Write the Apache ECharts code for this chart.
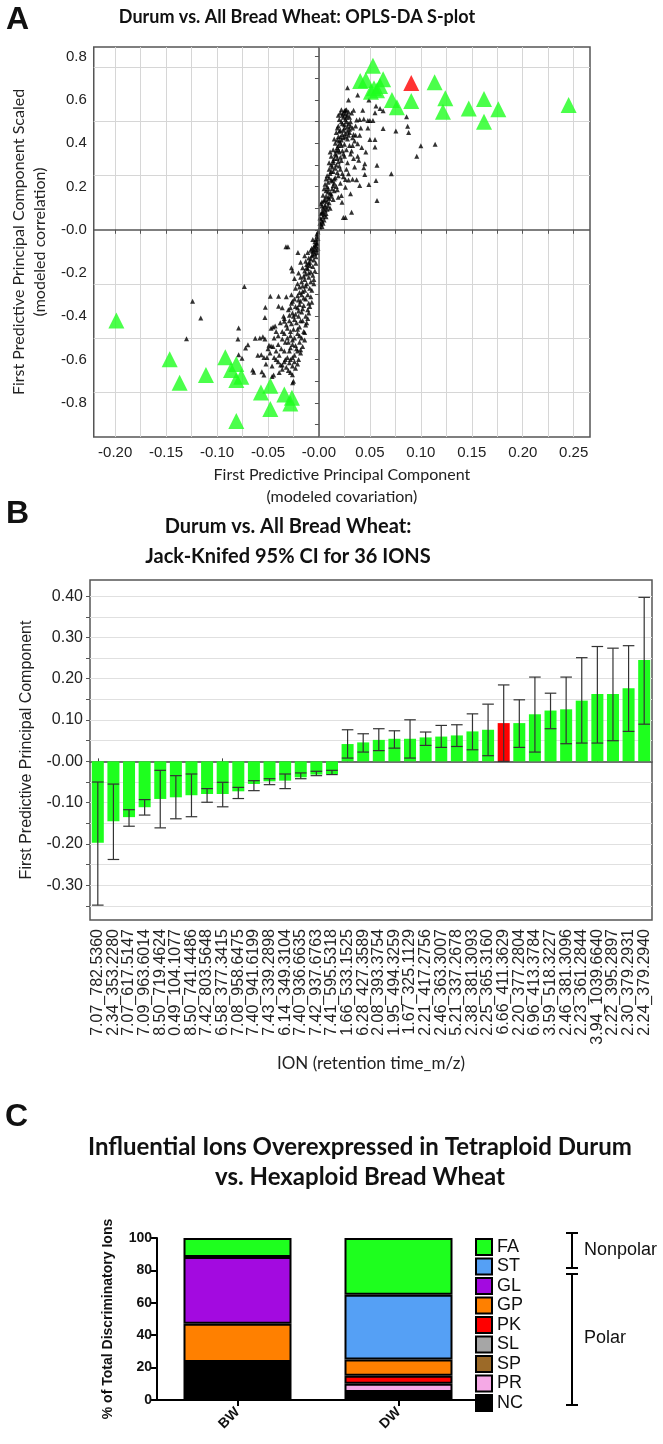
<!DOCTYPE html>
<html><head><meta charset="utf-8">
<script src="https://cdn.jsdelivr.net/npm/echarts@6/dist/echarts.min.js"></script>
<style>html,body{margin:0;padding:0;background:#fff}#c{width:663px;height:1444px}</style>
</head><body><div id="c"></div><script>
// ---------- Panel A: S-plot data ----------
const blackPoints = [
[0.028,0.657],[0.029,0.600],[0.038,0.623],[0.049,0.600],[0.026,0.553],[0.034,0.553],[0.043,0.553],[0.056,0.572],[0.060,0.561],[0.063,0.550],[0.055,0.541],[0.037,0.507],[0.040,0.510],[0.044,0.512],[0.048,0.505],[0.050,0.505],[0.053,0.505],[0.063,0.468],[0.0755,0.457],[0.086,0.522],[0.087,0.479],[0.088,0.450],[0.100,0.388],[0.114,0.395],[0.096,0.340],[0.071,0.259],[0.057,0.298],[0.056,0.228],[0.057,0.135],[0.045,0.305],[0.044,0.287],[0.045,0.256],[0.050,0.417],[0.055,0.417],[0.055,0.383],[0.040,0.437],[0.036,0.437],[0.040,0.205],[0.049,0.209],[0.037,0.231],[0.033,0.234],[0.026,0.232],[0.029,0.230],[0.022,0.158],[0.0226,0.127],[0.026,0.057],[0.032,0.081],[0.024,0.057],
[0.029,0.437],[0.033,0.426],[0.038,0.398],[0.032,0.364],[0.034,0.329],[0.039,0.321],[0.035,0.290],[0.029,0.259],[0.026,0.197],[0.031,0.166],[0.019,0.150],
[0.001,0.010],[0.002,0.025],[0.003,0.040],[0.002,0.050],[0.004,0.060],[0.005,0.070],[0.003,0.080],[0.006,0.090],[0.004,0.100],[0.007,0.075],[0.008,0.095],[0.001,0.030],[0.005,0.045],[0.009,0.110],[0.002,0.120],
[0.003,0.130],[0.006,0.140],[0.009,0.150],[0.004,0.160],[0.011,0.170],[0.007,0.180],[0.005,0.190],[0.013,0.190],[0.008,0.200],[0.010,0.125],[0.012,0.155],[0.015,0.180],[0.006,0.115],[0.014,0.205],[0.017,0.200],
[0.006,0.210],[0.009,0.220],[0.012,0.230],[0.016,0.240],[0.008,0.250],[0.011,0.260],[0.014,0.270],[0.019,0.250],[0.010,0.280],[0.013,0.290],[0.017,0.300],[0.021,0.280],[0.007,0.235],[0.015,0.215],[0.023,0.260],[0.012,0.300],
[0.010,0.310],[0.014,0.320],[0.018,0.330],[0.022,0.320],[0.012,0.340],[0.016,0.350],[0.020,0.360],[0.025,0.340],[0.014,0.370],[0.018,0.380],[0.022,0.390],[0.027,0.370],[0.016,0.400],[0.020,0.410],[0.024,0.350],[0.011,0.360],
[0.015,0.420],[0.019,0.430],[0.023,0.440],[0.028,0.420],[0.017,0.450],[0.021,0.460],[0.025,0.470],[0.030,0.450],[0.019,0.480],[0.023,0.490],[0.027,0.500],[0.021,0.430],[0.031,0.480],[0.018,0.470],
[0.020,0.510],[0.024,0.520],[0.028,0.530],[0.021,0.540],[0.025,0.550],[0.022,0.555],[0.027,0.555],[0.030,0.520],[0.019,0.530],[0.032,0.540],
[0.004,0.085],[0.006,0.105],[0.008,0.130],[0.010,0.145],[0.012,0.165],[0.009,0.175],[0.013,0.225],[0.015,0.235],[0.018,0.265],[0.016,0.285],[0.020,0.295],[0.019,0.315],[0.021,0.335],[0.017,0.345],[0.023,0.365],[0.019,0.390],[0.025,0.395],[0.018,0.415],[0.024,0.425],[0.026,0.445],[0.020,0.455],[0.024,0.460],[0.028,0.475],[0.022,0.500],[0.026,0.510],[0.029,0.490],[0.023,0.530],[0.026,0.535],[0.031,0.500],[0.033,0.470],[0.035,0.410],[0.030,0.390],[0.031,0.350],[0.028,0.310],[0.027,0.280],[0.024,0.245],[0.021,0.215],[0.018,0.185],[0.014,0.140],[0.011,0.100],[0.007,0.060],[0.003,0.015],[0.004,0.030],[0.001,0.055],[0.002,0.075],[0.003,0.110],[0.005,0.135],[0.007,0.155],[0.009,0.190],[0.010,0.240],[0.012,0.270],[0.014,0.310],[0.015,0.330],[0.017,0.365],[0.019,0.370],[0.021,0.400],[0.022,0.415],[0.026,0.430],[0.028,0.455],[0.030,0.465],[0.025,0.485],[0.027,0.520],[0.024,0.540],[0.029,0.545],[0.036,0.480],[0.034,0.440],[0.033,0.390],[0.041,0.470],[0.042,0.380],[0.046,0.360],[0.038,0.340],[0.048,0.470],
[-0.001,-0.010],[-0.002,-0.030],[-0.003,-0.045],[-0.002,-0.060],[-0.004,-0.070],[-0.005,-0.080],[-0.003,-0.090],[-0.006,-0.100],[-0.007,-0.085],[-0.001,-0.040],[-0.004,-0.055],[-0.008,-0.095],[-0.002,-0.020],
[-0.004,-0.110],[-0.007,-0.120],[-0.010,-0.130],[-0.005,-0.140],[-0.009,-0.150],[-0.012,-0.160],[-0.006,-0.170],[-0.011,-0.180],[-0.014,-0.190],[-0.008,-0.195],[-0.003,-0.125],[-0.013,-0.145],[-0.016,-0.175],[-0.010,-0.200],
[-0.006,-0.210],[-0.010,-0.220],[-0.014,-0.230],[-0.018,-0.220],[-0.008,-0.240],[-0.012,-0.250],[-0.016,-0.260],[-0.021,-0.250],[-0.009,-0.270],[-0.014,-0.280],[-0.019,-0.290],[-0.023,-0.270],[-0.011,-0.300],[-0.017,-0.300],[-0.005,-0.230],
[-0.008,-0.310],[-0.013,-0.320],[-0.018,-0.330],[-0.024,-0.320],[-0.010,-0.340],[-0.015,-0.350],[-0.021,-0.360],[-0.027,-0.340],[-0.011,-0.370],[-0.017,-0.380],[-0.023,-0.390],[-0.030,-0.370],[-0.013,-0.400],[-0.020,-0.400],[-0.009,-0.355],[-0.026,-0.385],
[-0.011,-0.410],[-0.016,-0.420],[-0.022,-0.430],[-0.029,-0.420],[-0.034,-0.410],[-0.013,-0.440],[-0.019,-0.450],[-0.025,-0.460],[-0.032,-0.440],[-0.015,-0.470],[-0.021,-0.480],[-0.028,-0.490],[-0.036,-0.470],[-0.017,-0.500],[-0.024,-0.500],[-0.040,-0.490],[-0.031,-0.500],
[-0.014,-0.510],[-0.019,-0.520],[-0.026,-0.530],[-0.033,-0.520],[-0.040,-0.530],[-0.016,-0.540],[-0.022,-0.550],[-0.029,-0.560],[-0.037,-0.550],[-0.045,-0.540],[-0.018,-0.570],[-0.024,-0.580],[-0.031,-0.590],[-0.039,-0.580],[-0.020,-0.600],[-0.028,-0.600],[-0.048,-0.570],
[-0.021,-0.620],[-0.026,-0.630],[-0.023,-0.640],[-0.036,-0.625],[-0.026,-0.670],[-0.030,-0.650],[-0.025,-0.700],[-0.034,-0.610],
[-0.002,-0.065],[-0.003,-0.075],[-0.005,-0.095],[-0.006,-0.115],[-0.008,-0.135],[-0.010,-0.155],[-0.012,-0.175],[-0.009,-0.165],[-0.013,-0.205],[-0.015,-0.215],[-0.017,-0.240],[-0.013,-0.260],[-0.019,-0.265],[-0.016,-0.285],[-0.021,-0.305],[-0.015,-0.315],[-0.020,-0.325],[-0.026,-0.330],[-0.019,-0.345],[-0.023,-0.355],[-0.028,-0.360],[-0.016,-0.365],[-0.020,-0.375],[-0.025,-0.400],[-0.029,-0.395],[-0.018,-0.420],[-0.024,-0.415],[-0.027,-0.435],[-0.031,-0.455],[-0.021,-0.460],[-0.028,-0.470],[-0.034,-0.480],[-0.019,-0.490],[-0.026,-0.510],[-0.030,-0.520],[-0.036,-0.505],[-0.023,-0.535],[-0.028,-0.545],[-0.034,-0.560],[-0.042,-0.560],[-0.021,-0.560],[-0.026,-0.590],[-0.033,-0.600],[-0.029,-0.615],[-0.040,-0.610],[-0.044,-0.590],[-0.032,-0.635],[-0.028,-0.660],[-0.024,-0.610],[-0.018,-0.555],[-0.014,-0.475],[-0.012,-0.430],[-0.010,-0.385],[-0.007,-0.335],[-0.007,-0.280],[-0.005,-0.250],[-0.004,-0.190],[-0.003,-0.155],[-0.002,-0.105],[-0.001,-0.085],[-0.006,-0.045],[-0.011,-0.105],[-0.014,-0.120],[-0.018,-0.150],[-0.020,-0.200],[-0.024,-0.225],[-0.027,-0.300],[-0.032,-0.310],[-0.038,-0.430],[-0.042,-0.470],[-0.044,-0.500],[-0.050,-0.550],[-0.052,-0.620],[-0.046,-0.630],[-0.039,-0.660],
[-0.0324,-0.078],[-0.0304,-0.078],[-0.0206,-0.105],[-0.0732,-0.262],[-0.124,-0.330],[-0.116,-0.408],[-0.130,-0.504],[-0.0788,-0.454],[-0.0795,-0.505],[-0.0788,-0.578],[-0.0625,-0.501],[-0.058,-0.500],[-0.055,-0.495],[-0.053,-0.505],[-0.0697,-0.532],[-0.072,-0.547],[-0.0755,-0.594],[-0.065,-0.648],[-0.064,-0.659],[-0.056,-0.656],[-0.054,-0.671],[-0.0445,-0.671],[-0.046,-0.678],[-0.036,-0.645],[-0.0376,-0.625],[-0.0566,-0.578],[-0.054,-0.591],[-0.0477,-0.307],[-0.0396,-0.307],[-0.0526,-0.358],[-0.053,-0.405],[-0.045,-0.450],[-0.043,-0.445],[-0.047,-0.455],[-0.049,-0.534],[-0.047,-0.537],[-0.0396,-0.353],[-0.036,-0.360],[-0.0347,-0.400],[-0.034,-0.423],[-0.027,-0.175],[-0.026,-0.190],[-0.051,-0.590],[-0.042,-0.600],[-0.060,-0.580],[-0.0258,-0.707]
];
const greenPoints = [
[0.053,0.758],[0.0405,0.688],[0.046,0.693],[0.063,0.696],[0.054,0.654],[0.057,0.645],[0.051,0.638],[0.1135,0.682],[0.0716,0.600],[0.0765,0.566],[0.0906,0.595],[0.124,0.608],[0.1217,0.546],[0.147,0.561],[0.162,0.605],[0.162,0.499],[0.176,0.557],[0.245,0.577],[0.060,0.665],
[-0.1988,-0.419],[-0.1465,-0.598],[-0.1367,-0.707],[-0.1109,-0.671],[-0.0919,-0.589],[-0.0863,-0.648],[-0.0811,-0.620],[-0.0811,-0.695],[-0.0762,-0.679],[-0.0811,-0.884],[-0.0569,-0.752],[-0.0477,-0.721],[-0.0477,-0.829],[-0.034,-0.761],[-0.0265,-0.777],[-0.0281,-0.803]
];
const redPoints = [[0.0906,0.678]];
const aXLabelTicks = [-0.20,-0.15,-0.10,-0.05,0,0.05,0.10,0.15,0.20,0.25];
const aXGridTicks = [-0.2,-0.175,-0.15,-0.125,-0.1,-0.075,-0.05,-0.025,0,0.025,0.05,0.075,0.1,0.125,0.15,0.175,0.2,0.225,0.25];
const aYLabelTicks = [-0.8,-0.6,-0.4,-0.2,0,0.2,0.4,0.6,0.8];
const aYMinorTicks = [-0.9,-0.8,-0.7,-0.6,-0.5,-0.4,-0.3,-0.2,-0.1,0,0.1,0.2,0.3,0.4,0.5,0.6,0.7,0.8];
const aYGridTicks = [-0.75,-0.5,-0.25,0.25,0.5,0.75];

// ---------- Panel B: jack-knifed CI ----------
const ionLabels = ['7.07_782.5360','2.34_353.2280','7.07_617.5147','7.09_963.6014','8.50_719.4624','0.49_104.1077','8.50_741.4486','7.42_803.5648','6.58_377.3415','7.08_958.6475','7.40_941.6199','7.43_339.2898','6.14_349.3104','7.40_936.6635','7.42_937.6763','7.41_595.5318','1.66_533.1525','6.28_427.3589','2.08_393.3754','1.95_494.3259','1.67_325.1129','2.21_417.2756','2.46_363.3007','5.21_337.2678','2.38_381.3093','2.25_365.3160','6.66_411.3629','2.20_377.2804','6.96_413.3784','3.59_518.3227','2.46_381.3096','2.23_361.2844','3.94_1039.6640','2.22_395.2897','2.30_379.2931','2.24_379.2940'];
const ionValues = [-0.197,-0.145,-0.135,-0.111,-0.091,-0.087,-0.082,-0.079,-0.079,-0.0725,-0.0547,-0.0483,-0.0467,-0.0386,-0.032,-0.0306,0.0419,0.0459,0.052,0.0547,0.0547,0.058,0.060,0.0628,0.0725,0.0765,0.0926,0.0926,0.114,0.123,0.126,0.147,0.163,0.163,0.177,0.2456];
const ciLow = [-0.348,-0.2375,-0.157,-0.130,-0.161,-0.139,-0.134,-0.099,-0.110,-0.090,-0.0709,-0.0564,-0.066,-0.042,-0.0346,-0.032,0.008,0.0225,0.026,0.032,0.008,0.0386,0.0338,0.036,0.028,0.0137,0.0,0.0338,0.0225,0.079,0.0427,0.0443,0.0443,0.050,0.0725,0.090];
const ciHigh = [-0.050,-0.055,-0.117,-0.0926,-0.0217,-0.0346,-0.0306,-0.066,-0.0507,-0.063,-0.0467,-0.042,-0.0306,-0.028,-0.024,-0.0217,0.0765,0.0668,0.079,0.074,0.1006,0.071,0.087,0.0886,0.115,0.1385,0.185,0.149,0.204,0.165,0.204,0.251,0.278,0.274,0.280,0.397];
const highlightIon = '6.66_411.3629';
const bYLabelTicks = [-0.3,-0.2,-0.1,0,0.1,0.2,0.3,0.4];
const bYGridTicks = [-0.35,-0.3,-0.25,-0.2,-0.15,-0.1,-0.05,0,0.05,0.1,0.15,0.2,0.25,0.3,0.35,0.4];

// ---------- Panel C: class composition ----------
const groups = ['BW','DW'];
const ionClasses = ['NC','PR','SP','SL','PK','GP','GL','ST','FA'];
const bwShares = [23.5,0,0,0,0,23.5,41.2,0,11.8];
const dwShares = [5,5,0,0,5,10,0,40,35];
const legendOrder = ['FA','ST','GL','GP','PK','SL','SP','PR','NC'];
const classColors = {NC:'#000000',PR:'#f5a9e6',SP:'#9c6a28',SL:'#a6a6a6',PK:'#ff0000',GP:'#ff8000',GL:'#a30ae0',ST:'#55a0f5',FA:'#1eff1e'};

// ---------- styles ----------
const ARIAL = 'Liberation Sans';
const CAL = 'Lato';
const fmtA_x = v => Math.abs(v) < 1e-9 ? '-0.00' : v.toFixed(2);
const fmtA_y = v => Math.abs(v) < 1e-9 ? '-0.0' : v.toFixed(1);
const fmtB_y = v => Math.abs(v) < 1e-9 ? '-0.00' : v.toFixed(2);
const GREEN = '#1eff1e';
const GRIDC = '#d6d6d6';

const chart = echarts.init(document.getElementById('c'), null, {renderer: 'canvas'});

const option = {
  animation: false,
  backgroundColor: '#fff',
  grid: [
    {left: 93, top: 47, width: 497, height: 390, show: true, borderColor: '#555', borderWidth: 1.5, containLabel: false},
    {left: 90, top: 580, width: 562, height: 340, show: true, borderColor: '#555', borderWidth: 1.5, containLabel: false},
    {left: 157, top: 1238, width: 322, height: 162, containLabel: false}
  ],
  xAxis: [
    { // A
      type: 'value', gridIndex: 0, min: -0.221, max: 0.266,
      axisLine: {show: false},
      axisTick: {show: true, customValues: aXGridTicks, length: 4, lineStyle: {color: '#555'}},
      axisLabel: {customValues: aXLabelTicks, formatter: fmtA_x, fontFamily: ARIAL, fontSize: 15, color: '#222', margin: 8},
      splitLine: {show: true, lineStyle: {color: GRIDC, width: 1}},
      name: 'First Predictive Principal Component\n(modeled covariation)',
      nameLocation: 'middle', nameGap: 27,
      nameTextStyle: {fontFamily: CAL, fontSize: 16, color: '#222', lineHeight: 22}
    },
    { // B labels
      type: 'category', gridIndex: 1, data: ionLabels, position: 'bottom',
      axisLine: {show: false, onZero: false}, axisTick: {show: false},
      axisLabel: {interval: 0, rotate: 90, fontFamily: ARIAL, fontSize: 16, color: '#222', margin: 9},
      name: 'ION (retention time_m/z)', nameLocation: 'middle', nameGap: 135,
      nameTextStyle: {fontFamily: CAL, fontSize: 17, color: '#222'}
    },
    { // B zero line
      type: 'category', gridIndex: 1, data: ionLabels, position: 'top',
      axisLine: {show: true, onZero: true, lineStyle: {color: '#444', width: 1.5}},
      axisTick: {show: true, alignWithLabel: true, length: 3, lineStyle: {color: '#444'}},
      axisLabel: {show: false}
    },
    { // C
      type: 'category', gridIndex: 2, data: groups,
      axisLine: {show: true, lineStyle: {color: '#000', width: 2}},
      axisTick: {show: true, alignWithLabel: true, length: 6, lineStyle: {color: '#000', width: 2}},
      axisLabel: {rotate: 45, fontFamily: ARIAL, fontWeight: 'bold', fontSize: 14, color: '#111', margin: 10}
    }
  ],
  yAxis: [
    { // A labels
      type: 'value', gridIndex: 0, min: -0.958, max: 0.845,
      axisLine: {show: false},
      axisTick: {show: true, customValues: aYMinorTicks, length: 4, lineStyle: {color: '#555'}},
      axisLabel: {customValues: aYLabelTicks, formatter: fmtA_y, fontFamily: ARIAL, fontSize: 15, color: '#222', margin: 7},
      splitLine: {show: false},
      name: 'First Predictive Principal Component Scaled\n(modeled correlation)',
      nameLocation: 'middle', nameGap: 37, nameRotate: 90,
      nameTextStyle: {fontFamily: CAL, fontSize: 16, color: '#222', lineHeight: 21}
    },
    { // A gridlines
      type: 'value', gridIndex: 0, min: -0.958, max: 0.845, position: 'right',
      axisLine: {show: false}, axisLabel: {show: false},
      axisTick: {show: false, customValues: aYGridTicks},
      splitLine: {show: true, lineStyle: {color: GRIDC, width: 1}}
    },
    { // B
      type: 'value', gridIndex: 1, min: -0.384, max: 0.439,
      axisLine: {show: false},
      axisTick: {show: true, customValues: bYGridTicks, length: 4, lineStyle: {color: '#555'}},
      axisLabel: {customValues: bYLabelTicks, formatter: fmtB_y, fontFamily: ARIAL, fontSize: 16, color: '#222', margin: 7},
      splitLine: {show: true, lineStyle: {color: '#e0e0e0', width: 1}},
      name: 'First Predictive Principal Component', nameLocation: 'middle', nameGap: 55, nameRotate: 90,
      nameTextStyle: {fontFamily: ARIAL, fontSize: 16, color: '#222'}
    },
    { // C
      type: 'value', gridIndex: 2, min: 0, max: 100, interval: 20,
      axisLine: {show: true, lineStyle: {color: '#000', width: 2}},
      axisTick: {show: true, length: 6, lineStyle: {color: '#000', width: 2}},
      axisLabel: {fontFamily: ARIAL, fontWeight: 'bold', fontSize: 14, color: '#111', margin: 5},
      splitLine: {show: false},
      name: '% of Total Discriminatory Ions', nameLocation: 'middle', nameGap: 42, nameRotate: 90,
      nameTextStyle: {fontFamily: ARIAL, fontWeight: 'bold', fontSize: 14, color: '#111'}
    }
  ],
  legend: {
    data: legendOrder, orient: 'vertical', left: 470, top: 1233,
    itemWidth: 16, itemHeight: 16, itemGap: 1.5, icon: 'rect',
    textStyle: {fontFamily: ARIAL, fontSize: 18, color: '#111', lineHeight: 17},
    selectedMode: false
  },
  series: [
    {
      type: 'scatter', xAxisIndex: 0, yAxisIndex: 0, data: blackPoints,
      symbol: 'triangle', symbolSize: 5, itemStyle: {color: '#000'}, z: 2, silent: true,
      markLine: {
        silent: true, symbol: ['none','none'], label: {show: false},
        lineStyle: {color: '#555', width: 1.5, type: 'solid'},
        data: [{xAxis: 0}, {yAxis: 0}]
      }
    },
    {type: 'scatter', xAxisIndex: 0, yAxisIndex: 0, data: greenPoints, symbol: 'triangle', symbolSize: 16, itemStyle: {color: GREEN}, z: 3},
    {type: 'scatter', xAxisIndex: 0, yAxisIndex: 0, data: redPoints, symbol: 'triangle', symbolSize: 16, itemStyle: {color: '#ff0000'}, z: 4},
    {
      type: 'bar', xAxisIndex: 1, yAxisIndex: 2, barWidth: '77%',
      data: ionValues.map((v, i) => ({value: v, itemStyle: {color: ionLabels[i] === highlightIon ? '#ff0000' : GREEN}})),
      z: 2
    },
    {
      type: 'custom', xAxisIndex: 1, yAxisIndex: 2, z: 3,
      data: ionLabels.map((l, i) => [i, ciLow[i], ciHigh[i]]),
      encode: {x: 0, y: [1, 2]},
      renderItem: (params, api) => {
        const x = api.value(0);
        const pLo = api.coord([x, api.value(1)]);
        const pHi = api.coord([x, api.value(2)]);
        const w = api.size([1, 0])[0] * 0.74;
        const st = {stroke: '#333', lineWidth: 1.2};
        return {type: 'group', children: [
          {type: 'line', shape: {x1: pLo[0], y1: pLo[1], x2: pHi[0], y2: pHi[1]}, style: st},
          {type: 'line', shape: {x1: pLo[0]-w/2, y1: pLo[1], x2: pLo[0]+w/2, y2: pLo[1]}, style: st},
          {type: 'line', shape: {x1: pHi[0]-w/2, y1: pHi[1], x2: pHi[0]+w/2, y2: pHi[1]}, style: st}
        ]};
      }
    },
    ...ionClasses.map((c, k) => ({
      type: 'bar', name: c, xAxisIndex: 3, yAxisIndex: 3, stack: 'total', barWidth: 108,
      data: [bwShares[k], dwShares[k]].map(v => v > 0 ? v : null),
      itemStyle: {color: classColors[c], borderColor: '#000', borderWidth: 2}
    }))
  ],
  graphic: [
    {type: 'text', x: 6, y: 20, style: {text: 'A', font: 'bold 32px "Liberation Sans"', fill: '#111', verticalAlign: 'middle'}},
    {type: 'text', x: 297, y: 17, style: {text: 'Durum vs. All Bread Wheat: OPLS-DA S-plot', font: 'bold 18px Lato', fill: '#111', align: 'center', verticalAlign: 'middle'}},
    {type: 'text', x: 6, y: 514, style: {text: 'B', font: 'bold 32px "Liberation Sans"', fill: '#111', verticalAlign: 'middle'}},
    {type: 'text', x: 288, y: 527, style: {text: 'Durum vs. All Bread Wheat:', font: 'bold 20px Lato', fill: '#111', align: 'center', verticalAlign: 'middle'}},
    {type: 'text', x: 288, y: 557, style: {text: 'Jack-Knifed 95% CI for 36 IONS', font: 'bold 20px Lato', fill: '#111', align: 'center', verticalAlign: 'middle'}},
    {type: 'text', x: 5, y: 1117, style: {text: 'C', font: 'bold 32px "Liberation Sans"', fill: '#111', verticalAlign: 'middle'}},
    {type: 'text', x: 360, y: 1147, style: {text: 'Influential Ions Overexpressed in Tetraploid Durum', font: 'bold 24px Lato', fill: '#111', align: 'center', verticalAlign: 'middle'}},
    {type: 'text', x: 360, y: 1177, style: {text: 'vs. Hexaploid Bread Wheat', font: 'bold 24px Lato', fill: '#111', align: 'center', verticalAlign: 'middle'}},
    {type: 'line', shape: {x1: 572, y1: 1233, x2: 572, y2: 1268}, style: {stroke: '#000', lineWidth: 2}},
    {type: 'line', shape: {x1: 566, y1: 1233, x2: 578, y2: 1233}, style: {stroke: '#000', lineWidth: 2}},
    {type: 'line', shape: {x1: 566, y1: 1268, x2: 578, y2: 1268}, style: {stroke: '#000', lineWidth: 2}},
    {type: 'line', shape: {x1: 572, y1: 1274, x2: 572, y2: 1405}, style: {stroke: '#000', lineWidth: 2}},
    {type: 'line', shape: {x1: 566, y1: 1274, x2: 578, y2: 1274}, style: {stroke: '#000', lineWidth: 2}},
    {type: 'line', shape: {x1: 566, y1: 1405, x2: 578, y2: 1405}, style: {stroke: '#000', lineWidth: 2}},
    {type: 'text', x: 584, y: 1250, style: {text: 'Nonpolar', font: '18px "Liberation Sans"', fill: '#111', verticalAlign: 'middle'}},
    {type: 'text', x: 584, y: 1338, style: {text: 'Polar', font: '18px "Liberation Sans"', fill: '#111', verticalAlign: 'middle'}}
  ]
};
chart.setOption(option);
</script></body></html>
